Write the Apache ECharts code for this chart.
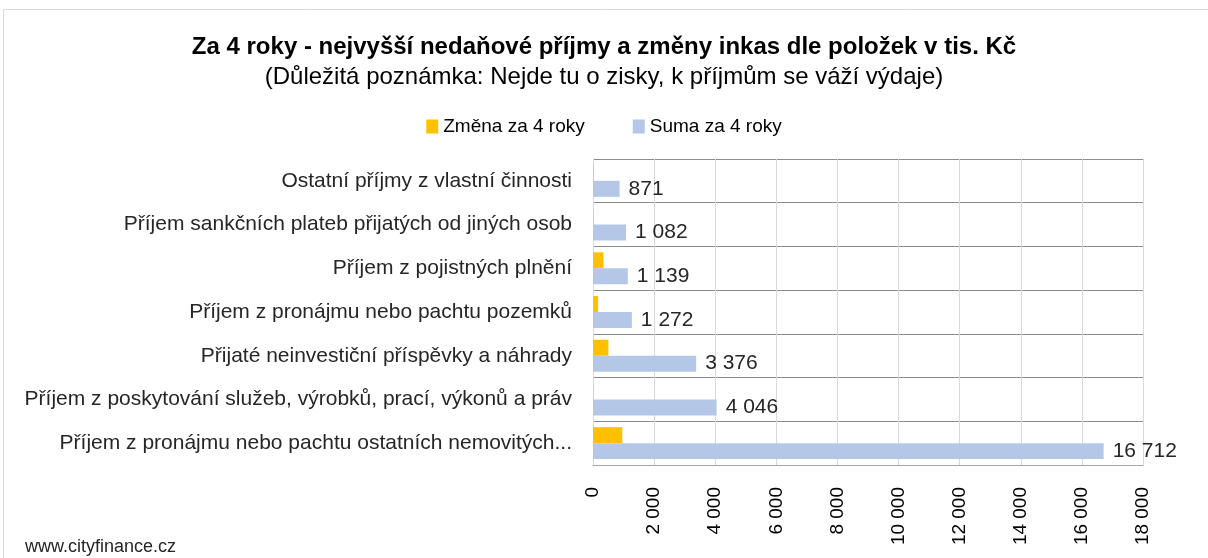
<!DOCTYPE html>
<html>
<head>
<meta charset="utf-8">
<script src="https://cdn.jsdelivr.net/npm/echarts@6/dist/echarts.min.js"></script>
<style>
html,body{margin:0;padding:0;background:#fff;}
#chart{width:1208px;height:558px;}
</style>
</head>
<body>
<div id="chart"></div>
<script>
const categories = [
  "Ostatní příjmy z vlastní činnosti",
  "Příjem sankčních plateb přijatých od jiných osob",
  "Příjem z pojistných plnění",
  "Příjem z pronájmu nebo pachtu pozemků",
  "Přijaté neinvestiční příspěvky a náhrady",
  "Příjem z poskytování služeb, výrobků, prací, výkonů a práv",
  "Příjem z pronájmu nebo pachtu ostatních nemovitých..."
];
const zmena = [20, 15, 345, 168, 505, 10, 958];
const suma = [871, 1082, 1139, 1272, 3376, 4046, 16712];
const seriesNames = ["Změna za 4 roky", "Suma za 4 roky"];
const titleText = "Za 4 roky - nejvyšší nedaňové příjmy a změny inkas dle položek v tis. Kč";
const subtitleText = "(Důležitá poznámka: Nejde tu o zisky, k příjmům se váží výdaje)";
const footerText = "www.cityfinance.cz";

function fmt(v){ return String(Math.round(v)).replace(/\B(?=(\d{3})+(?!\d))/g, " "); }

const FONT = "'Liberation Sans', Arial, sans-serif";
const chart = echarts.init(document.getElementById('chart'));
chart.setOption({
  animation: false,
  textStyle: { fontFamily: FONT },
  title: [
    { text: titleText, left: 'center', top: 30,
      textStyle: { fontSize: 24, fontWeight: 'bold', color: '#000', fontFamily: FONT } },
    { text: subtitleText, left: 'center', top: 60,
      textStyle: { fontSize: 24, fontWeight: 'normal', color: '#000', fontFamily: FONT } }
  ],
  legend: {
    top: 112, left: 'center', itemWidth: 12, itemHeight: 14, itemGap: 48,
    icon: 'rect',
    textStyle: { fontSize: 19, color: '#000', fontFamily: FONT },
    data: seriesNames
  },
  grid: { left: 593, right: 65, top: 159, bottom: 93, containLabel: false },
  xAxis: {
    type: 'value', min: 0, max: 18000, interval: 2000,
    axisLine: { show: true, lineStyle: { color: '#a6a6a6', width: 1 } },
    axisTick: { show: false },
    splitLine: { show: true, lineStyle: { color: '#d9d9d9', width: 1 } },
    axisLabel: { rotate: 90, margin: 22, fontSize: 19, color: '#000', fontFamily: FONT,
      formatter: v => fmt(v) }
  },
  yAxis: {
    type: 'category', data: categories, inverse: true,
    axisLine: { show: true, lineStyle: { color: '#d9d9d9' } },
    axisTick: { show: false },
    splitLine: { show: true, lineStyle: { color: '#8c8c8c', width: 1 } },
    axisLabel: { margin: 21, fontSize: 21, color: '#262626', fontFamily: FONT }
  },
  series: [
    { name: seriesNames[0], type: 'bar', data: zmena, barGap: '0%', barCategoryGap: '27%',
      itemStyle: { color: '#FFC000' } },
    { name: seriesNames[1], type: 'bar', data: suma, barGap: '0%', barCategoryGap: '27%',
      itemStyle: { color: '#B4C7E7' },
      label: { show: true, position: 'right', distance: 9, fontSize: 21, color: '#262626',
        fontFamily: FONT, formatter: p => fmt(p.value) } }
  ],
  graphic: [
    { type: 'rect', shape: { x: 3.5, y: 9.5, width: 1210, height: 560 },
      style: { fill: 'none', stroke: '#d9d9d9', lineWidth: 1 } },
    { type: 'text', left: 25, top: 538,
      style: { text: footerText, fontSize: 18, fill: '#262626', fontFamily: FONT } }
  ]
});
</script>
</body>
</html>
